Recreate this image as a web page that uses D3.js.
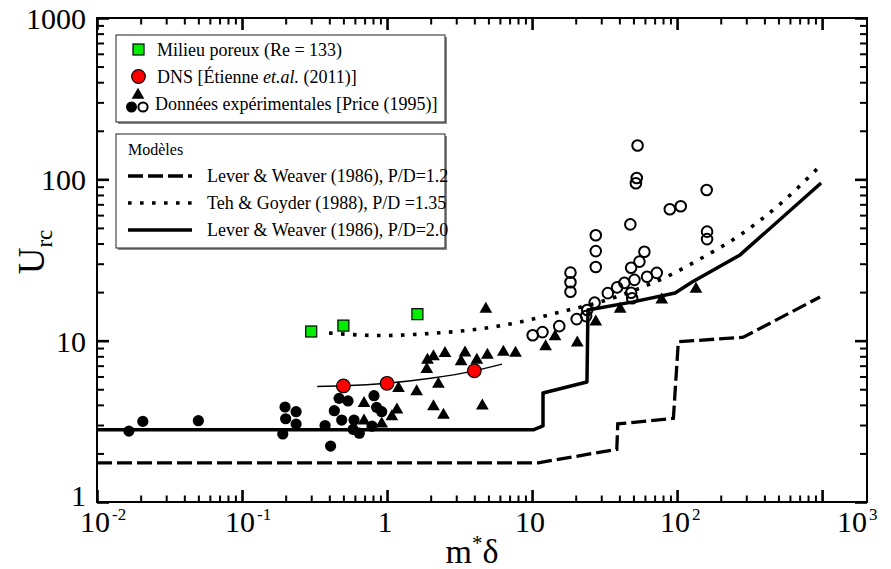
<!DOCTYPE html>
<html>
<head>
<meta charset="utf-8">
<script src="https://cdn.jsdelivr.net/npm/d3@7"></script>
<style>
  body { margin: 0; background: #fff; }
  svg { display: block; }
  text { font-family: "Liberation Serif", "Times New Roman", serif; fill: #000; }
</style>
</head>
<body>
<svg id="chart" width="891" height="569"></svg>
<script>
// ---- Axis extents and tick labels ----
const xMin = 0.01, xMax = 2040;
const yMin = 1, yMax = 1000;
const xMajorTicks = [0.01, 0.1, 1, 10, 100, 1000];
const xTickBase = ["10", "10", "1", "10", "10", "10"];
const xTickSup = ["-2", "-1", "", "", "2", "3"];
const yMajorTicks = [1, 10, 100, 1000];
const yTickLabels = ["1", "10", "100", "1000"];

// ---- Price (1995), filled circles ----
const priceDotX = [0.0166, 0.0207, 0.050, 0.198, 0.236, 0.200, 0.236, 0.191, 0.374, 0.408, 0.433,
                   0.467, 0.538, 0.487, 0.592, 0.583, 0.644, 0.813, 0.847, 0.919, 0.788];
const priceDotY = [2.75, 3.16, 3.19, 3.88, 3.63, 3.28, 3.04, 2.64, 2.98, 2.22, 3.68,
                   4.39, 4.23, 3.22, 3.22, 2.82, 2.67, 4.56, 3.86, 3.63, 2.95];

// ---- Price (1995), filled triangles ----
const priceTriX = [4.80, 1.90, 2.09, 2.51, 1.88, 3.45, 3.24, 4.16, 4.92, 6.34, 7.69, 1.20, 1.60, 2.26,
                   0.694, 1.17, 1.08, 2.09, 2.45, 4.54, 0.694, 0.919, 12.4, 14.4, 20.5, 27.5, 40.5, 78.4, 135];
const priceTriY = [15.7, 7.59, 7.96, 8.35, 6.65, 8.42, 7.41, 7.59, 8.15, 8.51, 8.39, 5.07, 4.83, 5.39,
                   4.09, 3.72, 3.38, 3.90, 3.46, 3.94, 3.19, 3.05, 9.18, 10.6, 9.71, 13.1, 15.7, 17.9, 20.9];

// ---- Price (1995), open circles ----
const priceOpenX = [53.4, 52.7, 52.0, 160, 89.1, 106, 47.6, 27.5, 27.5, 27.5, 161, 161, 18.4, 18.4, 18.4,
                    59.5, 55.0, 48.2, 50.8, 43.3, 38.6, 33.3, 62.1, 72.4, 48.2, 49.0, 27.0, 24.0, 20.3,
                    15.4, 11.8, 10.1, 23.6];
const priceOpenY = [162, 102, 94.5, 85.9, 65.2, 68.1, 52.6, 45.0, 35.9, 28.6, 47.4, 42.6, 26.4, 23.0, 20.1,
                    35.6, 30.9, 28.3, 23.8, 22.8, 21.4, 19.7, 24.9, 26.3, 19.8, 18.3, 17.2, 15.5, 13.6,
                    12.3, 11.3, 10.8, 14.2];

// ---- DNS, Étienne et al. (2011) and its trend curve ----
const dnsX = [0.5, 1.0, 4.0];
const dnsY = [5.24, 5.44, 6.51];
const dnsFitX = [0.33, 0.5, 1, 2, 4, 6.2];
const dnsFitY = [5.2, 5.25, 5.45, 5.85, 6.5, 7.15];

// ---- Porous medium (Re = 133) ----
const poreuxX = [0.30, 0.50, 1.62];
const poreuxY = [11.4, 12.4, 14.6];

// ---- Models ----
const lw12X = [0.01, 11.05, 38.4, 39.0, 94.3, 102, 286, 968];
const lw12Y = [1.75, 1.75, 2.12, 3.05, 3.30, 9.85, 10.5, 18.65];
const tgX = [0.398, 0.895, 1.98, 4.04, 8.27, 15.6, 29.4, 55.6, 89.5, 144, 272, 513, 968];
const tgY = [11.16, 10.76, 11.08, 11.73, 13.05, 15.05, 17.36, 21.2, 25.5, 32.1, 45.2, 70.3, 121];
const lw20X = [0.01, 10.2, 11.9, 11.9, 23.9, 24.3, 49.7, 96.9, 127, 272, 984];
const lw20Y = [2.80, 2.80, 2.96, 4.74, 5.54, 15.5, 17.4, 19.75, 23.1, 34.0, 94.9];

const zip = (xs, ys) => xs.map((v, i) => [v, ys[i]]);

const svg = d3.select("#chart");
const plot = { left: 97, right: 867, top: 18, bottom: 502 };

const x = d3.scaleLog().domain([xMin, xMax]).range([plot.left, plot.right]);
const y = d3.scaleLog().domain([yMin, yMax]).range([plot.bottom, plot.top]);

function minorTicks(lo, hi) {
  const out = [];
  for (let e = Math.round(Math.log10(lo)); e < Math.round(Math.log10(hi)); e++)
    for (let d = 2; d <= 9; d++) out.push(d * Math.pow(10, e));
  return out;
}
const xMinor = minorTicks(0.01, 1000);
const yMinor = minorTicks(1, 1000);

// ---- Ticks on all four sides, pointing inward ----
function addAxis(axisFn, scale, values, len, width, transform) {
  const g = svg.append("g").attr("transform", transform)
    .call(axisFn(scale).tickValues(values).tickSizeInner(-len).tickSizeOuter(0).tickFormat(""));
  g.select(".domain").remove();
  g.selectAll(".tick line").attr("stroke", "#000").attr("stroke-width", width);
}
addAxis(d3.axisBottom, x, xMajorTicks, 12, 2.6, `translate(0,${plot.bottom})`);
addAxis(d3.axisBottom, x, xMinor, 6.5, 2, `translate(0,${plot.bottom})`);
addAxis(d3.axisTop, x, xMajorTicks, 12, 2.6, `translate(0,${plot.top})`);
addAxis(d3.axisTop, x, xMinor, 6.5, 2, `translate(0,${plot.top})`);
addAxis(d3.axisLeft, y, yMajorTicks, 12, 2.6, `translate(${plot.left},0)`);
addAxis(d3.axisLeft, y, yMinor, 7, 2, `translate(${plot.left},0)`);
addAxis(d3.axisRight, y, yMajorTicks, 12, 2.6, `translate(${plot.right},0)`);
addAxis(d3.axisRight, y, yMinor, 7, 2, `translate(${plot.right},0)`);

svg.append("rect")
  .attr("x", plot.left).attr("y", plot.top)
  .attr("width", plot.right - plot.left).attr("height", plot.bottom - plot.top)
  .attr("fill", "none").attr("stroke", "#000").attr("stroke-width", 2);

// ---- Tick labels ----
xMajorTicks.forEach((v, i) => {
  const t = svg.append("text").attr("y", 532).attr("font-size", 30);
  const base = t.append("tspan").text(xTickBase[i]);
  const w = base.node().getComputedTextLength();
  const isLast = i === xMajorTicks.length - 1;
  const bx = isLast ? x(xMax) - w : x(v) - 2 - w / 2;
  base.attr("x", bx);
  if (xTickSup[i]) t.append("tspan").attr("dy", -12).attr("dx", 2).attr("font-size", 17).text(xTickSup[i]);
});
yMajorTicks.forEach((v, i) => {
  svg.append("text").attr("x", 86).attr("y", Math.min(y(v) + 11, plot.bottom + 4))
    .attr("text-anchor", "end").attr("font-size", 30).text(yTickLabels[i]);
});

// ---- Axis titles ----
const xt = svg.append("text").attr("x", 472).attr("y", 563).attr("text-anchor", "middle").attr("font-size", 34);
xt.append("tspan").text("m");
xt.append("tspan").attr("dy", -13).attr("font-size", 21).text("*");
xt.append("tspan").attr("dy", 13).text("δ");

const yt = svg.append("text").attr("transform", "translate(44,252) rotate(-90)")
  .attr("text-anchor", "middle").attr("font-size", 37);
yt.append("tspan").text("U");
yt.append("tspan").attr("dy", 8).attr("font-size", 23).text("rc");

// ---- Model curves ----
const linear = d3.line().x(d => x(d[0])).y(d => y(d[1]));
const smooth = d3.line().x(d => x(d[0])).y(d => y(d[1])).curve(d3.curveMonotoneX);

svg.append("path").attr("d", linear(zip(lw12X, lw12Y)))
  .attr("fill", "none").attr("stroke", "#000").attr("stroke-width", 3.3)
  .attr("stroke-dasharray", "15,5");
svg.append("path").attr("d", smooth(zip(tgX, tgY)))
  .attr("fill", "none").attr("stroke", "#000").attr("stroke-width", 3.6)
  .attr("stroke-dasharray", "3.6,8.4");
svg.append("path").attr("d", linear(zip(lw20X, lw20Y)))
  .attr("fill", "none").attr("stroke", "#000").attr("stroke-width", 3.5)
  .attr("stroke-linejoin", "round");
svg.append("path").attr("d", smooth(zip(dnsFitX, dnsFitY)))
  .attr("fill", "none").attr("stroke", "#000").attr("stroke-width", 1.4);

// ---- Markers ----
const tri = d3.symbol().type(d3.symbolTriangle).size(70);

svg.append("g").selectAll("circle").data(zip(priceDotX, priceDotY)).join("circle")
  .attr("cx", d => x(d[0])).attr("cy", d => y(d[1])).attr("r", 5.6).attr("fill", "#000");

svg.append("g").selectAll("path").data(zip(priceTriX, priceTriY)).join("path")
  .attr("d", tri).attr("transform", d => `translate(${x(d[0])},${y(d[1])})`).attr("fill", "#000");

svg.append("g").selectAll("circle").data(zip(priceOpenX, priceOpenY)).join("circle")
  .attr("cx", d => x(d[0])).attr("cy", d => y(d[1])).attr("r", 5.3)
  .attr("fill", "none").attr("stroke", "#000").attr("stroke-width", 2);

svg.append("g").selectAll("circle").data(zip(dnsX, dnsY)).join("circle")
  .attr("cx", d => x(d[0])).attr("cy", d => y(d[1])).attr("r", 6.8)
  .attr("fill", "#ff0000").attr("stroke", "#000").attr("stroke-width", 1.2);

const sq = 11;
svg.append("g").selectAll("rect").data(zip(poreuxX, poreuxY)).join("rect")
  .attr("x", d => x(d[0]) - sq / 2).attr("y", d => y(d[1]) - sq / 2)
  .attr("width", sq).attr("height", sq)
  .attr("fill", "#00ee00").attr("stroke", "#000").attr("stroke-width", 1.2);

// ---- Legends ----
function legendBox(x0, y0, w, h) {
  svg.append("rect").attr("x", x0 + 2).attr("y", y0 + 2).attr("width", w).attr("height", h).attr("fill", "#8a8a8a");
  svg.append("rect").attr("x", x0).attr("y", y0).attr("width", w).attr("height", h)
    .attr("fill", "#fff").attr("stroke", "#222").attr("stroke-width", 1);
}
legendBox(116, 35, 329, 87);
legendBox(116, 134, 329, 114);

const lg = svg.append("g").attr("font-size", 18);
lg.append("rect").attr("x", 133).attr("y", 44).attr("width", 11).attr("height", 11)
  .attr("fill", "#00ee00").attr("stroke", "#000").attr("stroke-width", 1.2);
lg.append("text").attr("x", 157).attr("y", 56).text("Milieu poreux (Re = 133)");

lg.append("circle").attr("cx", 138.5).attr("cy", 76.5).attr("r", 6.8)
  .attr("fill", "#ff0000").attr("stroke", "#000").attr("stroke-width", 1.2);
const dnsText = lg.append("text").attr("x", 157).attr("y", 83);
dnsText.append("tspan").text("DNS [Étienne ");
dnsText.append("tspan").attr("font-style", "italic").text("et.al.");
dnsText.append("tspan").text(" (2011)]");

lg.append("path").attr("d", tri).attr("transform", "translate(138,95)").attr("fill", "#000");
lg.append("circle").attr("cx", 131.5).attr("cy", 107).attr("r", 5.5).attr("fill", "#000");
lg.append("circle").attr("cx", 143).attr("cy", 107).attr("r", 4.6)
  .attr("fill", "#fff").attr("stroke", "#000").attr("stroke-width", 2);
lg.append("text").attr("x", 155).attr("y", 110).text("Données expérimentales [Price (1995)]");

lg.append("text").attr("x", 128).attr("y", 155).attr("font-size", 16).text("Modèles");
const legendModels = [
  { label: "Lever & Weaver (1986), P/D=1.2", dash: "15,5", w: 3.3, ly: 176 },
  { label: "Teh & Goyder (1988), P/D =1.35", dash: "3.6,8.4", w: 3.6, ly: 203 },
  { label: "Lever & Weaver (1986), P/D=2.0", dash: null, w: 3.5, ly: 230 }
];
legendModels.forEach(m => {
  const l = lg.append("line").attr("x1", 128).attr("x2", 192).attr("y1", m.ly).attr("y2", m.ly)
    .attr("stroke", "#000").attr("stroke-width", m.w);
  if (m.dash) l.attr("stroke-dasharray", m.dash);
  lg.append("text").attr("x", 207).attr("y", m.ly + 6).text(m.label);
});
</script>
</body>
</html>
